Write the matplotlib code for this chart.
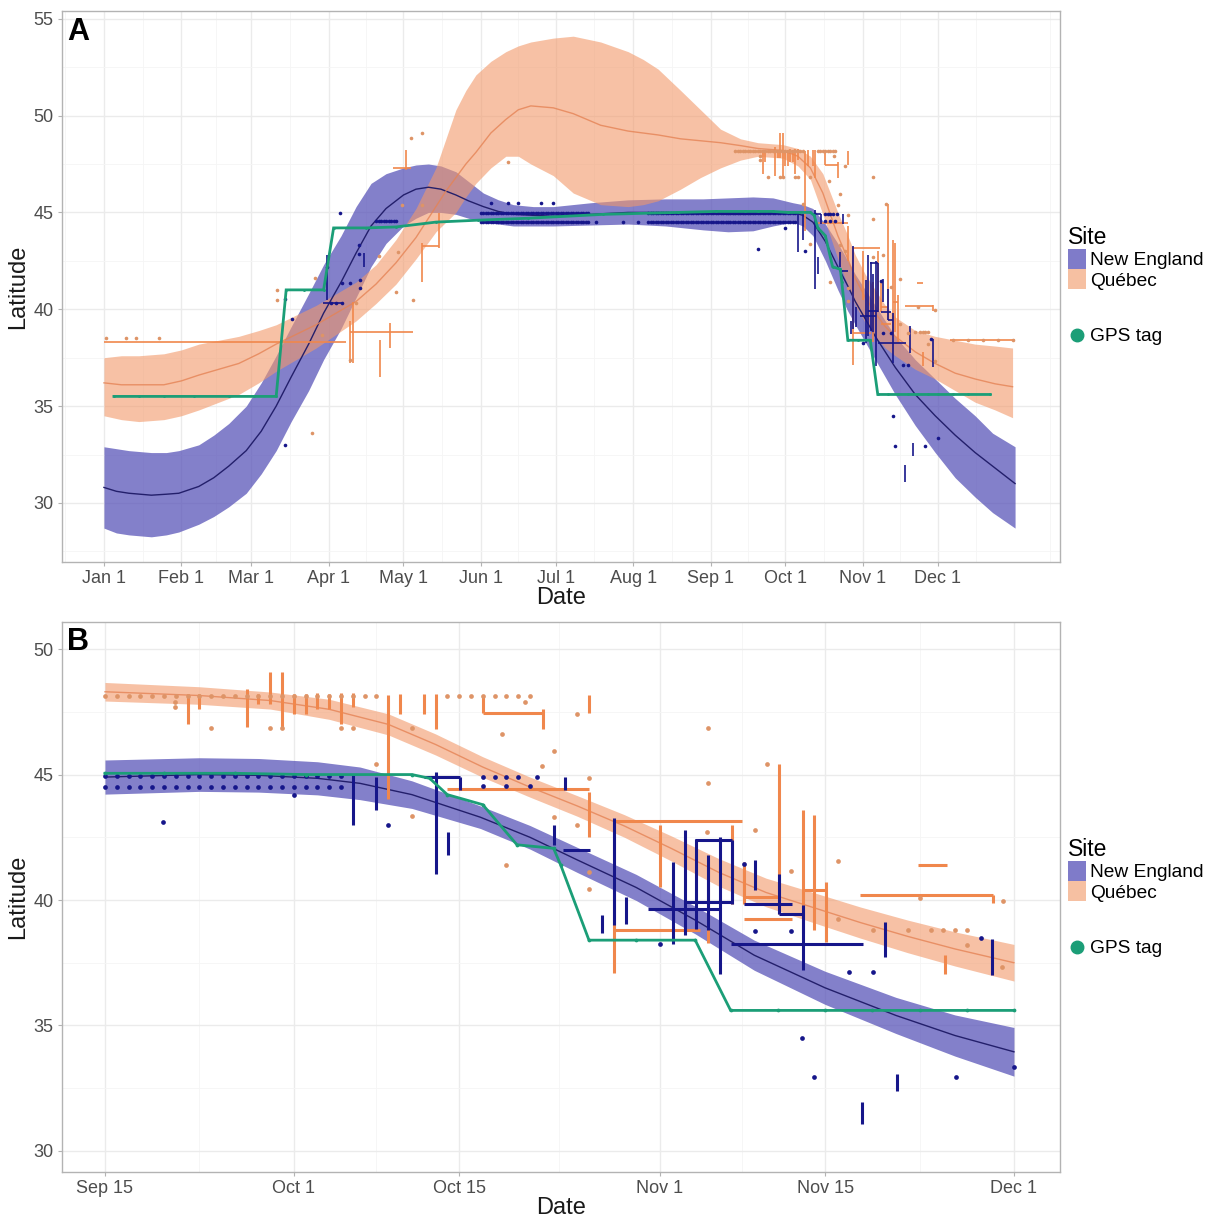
import numpy as np
import matplotlib
matplotlib.use("Agg")
import matplotlib.pyplot as plt
import matplotlib.dates as mdates
from matplotlib.patches import Patch
from matplotlib.lines import Line2D
import datetime as dt

plt.rcParams['font.family'] = ['Liberation Sans', 'DejaVu Sans']

# ---------------- data (day of year, 0 = Jan 1) ----------------
SEP15 = 257
DEC1 = 334

# Panel A model fits
A_NE_DAY = [0, 5, 10, 19, 25, 30, 38, 44, 50, 57, 63, 69, 75, 82, 88, 95, 101, 107, 113, 120, 125, 130, 135, 141,
            146, 152, 158, 164, 172, 180, 195, 210, 225, 240, 250, 260, 268, 276, 280, 284, 289, 294, 298, 301, 305,
            309, 313, 317, 321, 325, 333, 341, 349, 356, 365]
A_NE_MEAN = [30.8, 30.6, 30.5, 30.4, 30.45, 30.5, 30.85, 31.3, 31.9, 32.7, 33.7, 35.0, 36.5, 38.2, 39.8, 41.4, 42.9,
             44.3, 45.2, 45.9, 46.2, 46.3, 46.2, 45.9, 45.6, 45.3, 45.05, 44.9, 44.85, 44.8, 44.9, 45.0, 45.0, 44.95,
             44.9, 44.9, 44.95, 45.0, 44.85, 44.5, 43.5, 42.2, 41.2, 40.4, 39.5, 38.6, 37.8, 37.0, 36.3, 35.6, 34.5,
             33.5, 32.6, 31.9, 31.0]
A_NE_LO = [28.7, 28.45, 28.35, 28.25, 28.35, 28.5, 28.9, 29.3, 29.8, 30.5, 31.5, 32.7, 34.2, 35.8, 37.4, 39.0, 40.6,
           42.2, 43.4, 44.3, 44.7, 45.0, 45.0, 44.9, 44.7, 44.5, 44.4, 44.3, 44.3, 44.3, 44.35, 44.4, 44.3, 44.1,
           44.0, 44.05, 44.3, 44.5, 44.3, 43.8, 42.5, 41.0, 39.9, 39.2, 38.3, 37.4, 36.5, 35.6, 34.8, 34.0, 32.6,
           31.3, 30.3, 29.5, 28.7]
A_NE_HI = [32.9, 32.8, 32.7, 32.6, 32.6, 32.7, 33.0, 33.5, 34.1, 35.0, 36.2, 37.6, 39.1, 40.8, 42.3, 43.8, 45.3,
           46.5, 47.0, 47.3, 47.45, 47.5, 47.4, 47.1, 46.6, 46.0, 45.65, 45.4, 45.3, 45.3, 45.5, 45.65, 45.7, 45.7,
           45.75, 45.8, 45.75, 45.5, 45.4, 45.2, 44.4, 43.4, 42.5, 41.8, 41.0, 40.2, 39.4, 38.6, 38.0, 37.4, 36.4,
           35.4, 34.5, 33.6, 32.9]

A_QC_DAY = [0, 7, 14, 24, 31, 38, 46, 54, 62, 69, 77, 85, 93, 101, 109, 117, 125, 133, 137, 141, 145, 149, 155, 161,
            166, 171, 180, 188, 199, 210, 216, 222, 231, 239, 247, 255, 262, 272, 278, 283, 288, 294, 298, 301, 305,
            309, 313, 317, 325, 333, 341, 349, 357, 364]
A_QC_MEAN = [36.2, 36.1, 36.1, 36.1, 36.3, 36.6, 36.9, 37.2, 37.7, 38.2, 38.7, 39.2, 39.8, 40.4, 41.3, 42.4, 43.7,
             45.3, 46.1, 46.8, 47.5, 48.1, 49.1, 49.8, 50.3, 50.5, 50.4, 50.1, 49.5, 49.2, 49.1, 49.0, 48.8, 48.7,
             48.6, 48.45, 48.3, 48.2, 47.9, 47.3, 46.0, 43.8, 42.6, 41.6, 40.6, 39.8, 39.1, 38.6, 37.8, 37.2, 36.7,
             36.4, 36.15, 36.0]
A_QC_LO = [34.5, 34.3, 34.2, 34.3, 34.5, 34.8, 35.2, 35.6, 36.2, 36.8, 37.4, 38.0, 38.7, 39.4, 40.3, 41.3, 42.6,
           44.0, 44.5, 45.0, 45.8, 46.5, 47.3, 47.9, 47.9, 47.5, 46.9, 46.0, 45.4, 45.3, 45.4, 45.6, 46.2, 46.8,
           47.3, 47.7, 47.9, 47.8, 47.4, 46.7, 44.9, 42.6, 41.2, 40.2, 39.3, 38.6, 38.0, 37.6, 36.9, 36.4, 35.8,
           35.2, 34.8, 34.4]
A_QC_HI = [37.5, 37.6, 37.6, 37.7, 37.9, 38.2, 38.4, 38.6, 38.9, 39.2, 39.7, 40.2, 40.8, 41.4, 42.3, 43.6, 45.2,
           47.3, 48.8, 50.3, 51.3, 52.1, 52.8, 53.3, 53.6, 53.8, 54.0, 54.1, 53.8, 53.3, 52.9, 52.4, 51.3, 50.3,
           49.3, 48.8, 48.6, 48.5, 48.3, 47.9, 47.0, 45.0, 43.8, 42.8, 41.8, 41.0, 40.2, 39.6, 38.9, 38.6, 38.4,
           38.2, 38.1, 38.0]

# Panel B model fits (days after Sep 15)
B_NE_D = [0, 8, 13, 18, 21.6, 26, 31.8, 36, 40, 45, 50, 55, 61, 67, 72, 77]
B_NE_MEAN = [44.9, 45.0, 44.97, 44.85, 44.65, 44.2, 43.3, 42.5, 41.6, 40.5, 39.2, 37.8, 36.5, 35.4, 34.6, 33.95]
B_NE_LO = [44.22, 44.33, 44.30, 44.19, 44.0, 43.65, 42.85, 42.03, 41.1, 39.98, 38.65, 37.2, 35.84, 34.68, 33.78, 32.98]
B_NE_HI = [45.58, 45.67, 45.64, 45.51, 45.3, 44.75, 43.75, 42.97, 42.1, 41.02, 39.75, 38.4, 37.16, 36.12, 35.42, 34.92]

B_QC_D = [0, 8, 14, 19, 24, 28, 32, 36, 40, 44, 48, 52, 56, 60, 64, 68, 72, 77]
B_QC_MEAN = [48.3, 48.15, 47.95, 47.6, 47.0, 46.2, 45.3, 44.5, 43.75, 42.95, 42.05, 41.1, 40.3, 39.7, 39.1, 38.55,
             38.05, 37.5]
B_QC_LO = [47.93, 47.8, 47.61, 47.2, 46.58, 45.78, 44.89, 44.1, 43.34, 42.5, 41.55, 40.55, 39.73, 39.1, 38.48, 37.9,
           37.37, 36.77]
B_QC_HI = [48.67, 48.5, 48.29, 48.0, 47.42, 46.62, 45.71, 44.9, 44.16, 43.4, 42.55, 41.65, 40.87, 40.3, 39.72, 39.2,
           38.73, 38.23]

# GPS tag fixes (day of year, latitude)
GPS_DAY = [4, 14, 24, 36, 50, 60, 69, 73, 80, 88, 92, 105, 117, 133, 150, 170, 200, 230, 245, 257, 262, 268, 274,
           283, 284.5, 286, 289, 291.9, 295, 295.6, 298, 302, 307, 310, 314, 318, 322, 326, 330, 334, 340, 346, 355]
GPS_LAT = [35.5, 35.5, 35.5, 35.5, 35.5, 35.5, 35.5, 41.0, 41.0, 41.0, 44.2, 44.2, 44.25, 44.5, 44.6, 44.7, 44.9,
           45.0, 45.05, 45.05, 45.05, 45.05, 45.0, 45.0, 44.85, 44.2, 43.8, 42.2, 42.06, 41.4, 38.4, 38.4, 38.4, 35.6,
           35.6, 35.6, 35.6, 35.6, 35.6, 35.6, 35.6, 35.6, 35.6]

# New England observations
NE_PT_DAY = [261.9, 273, 281, 289, 290, 291, 292, 293.6, 289, 291, 293, 304, 311.1, 312.1, 315.1, 320, 322.1, 331.2,
             316.05, 317.1, 329.1, 334, 72.6, 75.3, 72.4, 94.4, 95.3, 98.6, 102, 102, 102.6, 102.6, 89.5, 91, 93,
             95.3, 155, 162, 166, 175, 180, 197, 208, 214]
NE_PT_LAT = [43.09, 44.2, 43.0, 44.9, 44.9, 44.9, 44.9, 44.9, 44.56, 44.56, 44.56, 38.26, 41.45, 38.76, 38.76, 37.13,
             37.13, 38.48, 34.5, 32.94, 32.94, 33.34, 40.52, 39.49, 33.0, 44.96, 41.35, 41.35, 42.85, 43.3, 41.5,
             41.1, 42.2, 40.3, 40.3, 40.3, 45.48, 45.48, 45.48, 45.48, 45.48, 44.53, 44.53, 44.53]
# daily rows: (latitude, first day, last day)
NE_ROW_LAT = [44.95, 44.52, 44.95, 44.52, 44.55]
NE_ROW_START = [151, 151, 218, 218, 109]
NE_ROW_END = [194, 194, 277, 277, 117]
NE_VB_DAY = [278, 280, 285, 286.1, 287.1, 295, 296, 299.1, 300.1, 301.1, 305.1, 306.1, 307.1, 308.1, 309.1, 310.1,
             312.1, 314.1, 316.1, 321.1, 323.1, 324.1, 332.1, 89.5, 104]
NE_VB_LO = [42.98, 43.6, 41.05, 41.8, 44.4, 42.18, 44.4, 38.7, 38.99, 39.06, 38.26, 38.6, 38.86, 38.8, 37.06, 39.86,
            40.39, 39.46, 37.2, 31.08, 37.73, 32.4, 37.0, 40.5, 42.2]
NE_VB_HI = [44.97, 44.9, 45.1, 42.7, 44.91, 42.98, 44.9, 39.4, 43.26, 40.12, 41.5, 42.78, 42.45, 41.8, 42.51, 42.38,
            41.58, 41.05, 39.79, 31.94, 39.12, 33.08, 38.46, 42.8, 42.9]
NE_HB_LAT = [44.91, 41.98, 42.38, 39.66, 39.92, 39.86, 39.46, 38.26, 40.31]
NE_HB_START = [284, 295.8, 307, 303, 306.1, 311.1, 314.1, 310, 87.9]
NE_HB_END = [287.1, 298.1, 310.1, 309.2, 310.1, 315.2, 316.2, 321.2, 95.3]

# Quebec observations
QC_PT_DAY = [262.9, 262.9, 266, 271, 272, 277, 278, 280, 283, 283, 290.6, 292.6, 295, 294, 297, 298, 291, 295, 298,
             298, 297, 308.1, 308.1, 313.1, 312.1, 315.1, 319.1, 319.1, 322.1, 325, 327, 328, 329, 330, 333.1, 330,
             333, 308, 326, 1, 9, 13, 22, 69.2, 69.2, 84.6, 87.3, 101, 118, 117, 124, 127.4, 119.4, 127.4, 110, 98.6,
             83.2, 162, 123, 340, 346, 352, 358, 364]
QC_PT_LAT = [47.9, 47.7, 46.84, 46.84, 46.84, 46.84, 46.84, 45.44, 46.84, 43.35, 46.6, 47.9, 45.93, 45.36, 47.4,
             44.87, 41.4, 43.3, 41.1, 40.45, 43.0, 46.84, 44.67, 45.41, 42.78, 41.16, 41.56, 39.23, 38.79, 38.82,
             38.82, 38.82, 38.82, 38.82, 39.95, 38.2, 37.33, 42.7, 40.1, 38.5, 38.5, 38.5, 38.5, 41.0, 40.5, 41.6,
             38.68, 40.3, 42.98, 40.9, 40.49, 49.1, 45.39, 45.39, 42.76, 37.4, 33.6, 47.6, 48.85, 38.4, 38.4, 38.4,
             38.4, 38.4]
QC_ROW_LAT = [48.15, 48.15]
QC_ROW_START = [253, 286]
QC_ROW_END = [280, 293]
QC_VB_DAY = [264, 265, 269, 270, 271, 272, 273, 274, 275, 276, 277, 278, 281, 282, 284, 285, 289, 294.1, 298, 298,
             300.1, 304, 308.1, 310.1, 311.1, 314.1, 316.1, 317.1, 318.1, 328.2, 332.2, 98.6, 99.9, 110.4, 114.7,
             127.4, 134.4, 121.1]
QC_VB_LO = [47.0, 47.6, 46.9, 47.8, 47.8, 46.8, 47.4, 47.4, 47.6, 47.6, 47.0, 47.7, 44.04, 47.4, 47.4, 46.8, 47.47,
            46.8, 47.45, 42.5, 37.1, 40.5, 38.3, 39.86, 39.86, 39.46, 38.67, 38.8, 38.32, 37.06, 39.9, 37.22, 37.22,
            36.52, 38.0, 41.43, 43.16, 47.2]
QC_VB_HI = [48.23, 48.23, 48.4, 48.2, 49.1, 49.1, 48.2, 48.2, 48.25, 48.2, 48.25, 48.25, 48.17, 48.2, 48.2, 48.2,
            48.14, 47.6, 48.17, 44.3, 43.2, 43.0, 41.4, 43.0, 41.52, 45.44, 43.58, 43.4, 40.72, 37.8, 40.2, 39.37,
            40.4, 38.42, 39.3, 43.42, 44.96, 48.23]
QC_HB_LAT = [47.47, 44.44, 43.15, 40.19, 41.38, 40.39, 39.26, 40.12, 38.79, 38.3, 38.8, 43.29, 47.29, 38.4]
QC_HB_START = [289, 286, 300, 321, 325.9, 316.2, 311.1, 311.1, 300.2, 0, 98.6, 127.4, 115.6, 339]
QC_HB_END = [294.1, 298, 311, 332.2, 328.3, 318.2, 315.2, 314.2, 307.4, 97, 124, 134.4, 123, 365]

# Tick labels
A_TICK_MONTHS = [1, 2, 3, 4, 5, 6, 7, 8, 9, 10, 11, 12]
A_TICK_LABELS = ["Jan 1", "Feb 1", "Mar 1", "Apr 1", "May 1", "Jun 1", "Jul 1", "Aug 1", "Sep 1", "Oct 1", "Nov 1",
                 "Dec 1"]
B_TICK_DATES = [(9, 15), (10, 1), (10, 15), (11, 1), (11, 15), (12, 1)]
B_TICK_LABELS = ["Sep 15", "Oct 1", "Oct 15", "Nov 1", "Nov 15", "Dec 1"]
A_YTICKS = [30, 35, 40, 45, 50, 55]
B_YTICKS = [30, 35, 40, 45, 50]

# ---------------- style ----------------
NE_FILL = "#5a55b9"
QC_FILL = "#f2996a"
NE_LINE = "#231f6b"
QC_LINE = "#e58355"
NE_MARK = "#16168a"
QC_MARK = "#f0874c"
QC_DOT = "#de9467"
GPS_COL = "#1b9e77"
NE_KEY = "#7f7bc9"
QC_KEY = "#f6c0a2"

YEAR = 2019
BASE = mdates.date2num(dt.datetime(YEAR, 1, 1))


def dnum(days):
    return BASE + np.asarray(days, dtype=float)


def expand_rows(lats, starts, ends):
    dd, ll = [], []
    for la, s, e in zip(lats, starts, ends):
        for d in range(int(s), int(e) + 1):
            dd.append(d)
            ll.append(la)
    return np.array(dd, float), np.array(ll, float)


def draw(ax, fit_ne, fit_qc, lim, bar_lw, ms, gps_clip):
    d0, d1 = lim
    ax.fill_between(dnum(fit_ne[0]), fit_ne[2], fit_ne[3], color=NE_FILL, alpha=0.75, lw=0, zorder=2)
    ax.plot(dnum(fit_ne[0]), fit_ne[1], color=NE_LINE, lw=1.0, zorder=3)
    ax.fill_between(dnum(fit_qc[0]), fit_qc[2], fit_qc[3], color=QC_FILL, alpha=0.6, lw=0, zorder=2.1)
    ax.plot(dnum(fit_qc[0]), fit_qc[1], color=QC_LINE, lw=1.0, alpha=0.8, zorder=3.1)

    def sel(days):
        days = np.asarray(days, float)
        return (days >= d0) & (days <= d1)

    for (pt_d, pt_l, rows, vb, hb, mcol, dcol) in [
        (QC_PT_DAY, QC_PT_LAT, (QC_ROW_LAT, QC_ROW_START, QC_ROW_END),
         (QC_VB_DAY, QC_VB_LO, QC_VB_HI), (QC_HB_LAT, QC_HB_START, QC_HB_END), QC_MARK, QC_DOT),
        (NE_PT_DAY, NE_PT_LAT, (NE_ROW_LAT, NE_ROW_START, NE_ROW_END),
         (NE_VB_DAY, NE_VB_LO, NE_VB_HI), (NE_HB_LAT, NE_HB_START, NE_HB_END), NE_MARK, NE_MARK)]:
        vd, vlo, vhi = [np.asarray(a, float) for a in vb]
        m = sel(vd)
        ax.vlines(dnum(vd[m]), vlo[m], vhi[m], color=mcol, lw=bar_lw, zorder=4)
        hl, hs, he = [np.asarray(a, float) for a in hb]
        mid = (hs + he) / 2
        m = sel(mid)
        ax.hlines(hl[m], dnum(np.clip(hs[m], d0, d1)), dnum(np.clip(he[m], d0, d1)), color=mcol, lw=bar_lw,
                  zorder=4)
        rd, rl = expand_rows(*rows)
        pd_ = np.concatenate([np.asarray(pt_d, float), rd])
        pl_ = np.concatenate([np.asarray(pt_l, float), rl])
        m = sel(pd_)
        ax.plot(dnum(pd_[m]), pl_[m], 'o', color=dcol, ms=ms, mew=0, zorder=4.5)

    gd = np.asarray(GPS_DAY, float)
    gl = np.asarray(GPS_LAT, float)
    if gps_clip:
        m = sel(gd)
        gd, gl = gd[m], gl[m]
    ax.plot(dnum(gd), gl, color=GPS_COL, lw=2.0, zorder=5, solid_joinstyle='miter')
    ax.plot(dnum(gd), gl, 'o', color=GPS_COL, ms=ms * 0.8, mew=0, zorder=5.1)


def style(ax, xticks, xlabels, xminor, yticks, yminor, letter):
    ax.set_xticks(xticks)
    ax.set_xticklabels(xlabels)
    ax.set_xticks(xminor, minor=True)
    ax.set_yticks(yticks)
    ax.set_yticks(yminor, minor=True)
    ax.grid(which='major', color='#ebebeb', lw=1.0, zorder=0)
    ax.grid(which='minor', color='#f5f5f5', lw=0.6, zorder=0)
    ax.set_axisbelow(True)
    ax.tick_params(which='major', length=3, color='#b3b3b3', labelsize=13, labelcolor='#4d4d4d', pad=3)
    ax.tick_params(which='minor', length=0)
    for s in ax.spines.values():
        s.set_color('#b3b3b3')
        s.set_linewidth(1.0)
    ax.set_xlabel('Date', fontsize=17, labelpad=0, color='#1a1a1a')
    ax.set_ylabel('Latitude', fontsize=17, labelpad=3, color='#1a1a1a')
    ax.text(0.005, 0.99, letter, transform=ax.transAxes, fontsize=22, fontweight='bold', va='top', ha='left')


def legends(fig, y_site, y_gps):
    h1 = [Patch(facecolor=NE_KEY, edgecolor='none', label='New England'),
          Patch(facecolor=QC_KEY, edgecolor='none', label='Québec')]
    fig.legend(handles=h1, title='Site', loc='upper left', bbox_to_anchor=(1068 / 1217, 1 - y_site / 1223),
               frameon=False, fontsize=13.8, title_fontsize=16.5, alignment='left', handlelength=0.95,
               handleheight=1.2, handletextpad=0.2, labelspacing=0.0, borderpad=0, borderaxespad=0)
    h2 = [Line2D([], [], marker='o', ls='none', color=GPS_COL, ms=9, label='GPS tag')]
    fig.legend(handles=h2, loc='upper left', bbox_to_anchor=(1068 / 1217, 1 - y_gps / 1223), frameon=False,
               fontsize=13.8, handlelength=0.95, handletextpad=0.2, borderpad=0, borderaxespad=0)


fig = plt.figure(figsize=(12.17, 12.23), dpi=100)
fig.patch.set_facecolor('white')
axA = fig.add_axes([62 / 1217, 1 - 562 / 1223, 998 / 1217, 551 / 1223])
axB = fig.add_axes([62 / 1217, 1 - 1172 / 1223, 998 / 1217, 550 / 1223])

# Panel A
draw(axA, (A_NE_DAY, A_NE_MEAN, A_NE_LO, A_NE_HI), (A_QC_DAY, A_QC_MEAN, A_QC_LO, A_QC_HI), (-20, 400),
     1.2, 2.6, False)
a_ticks = [mdates.date2num(dt.datetime(YEAR, m, 1)) for m in A_TICK_MONTHS]
a_minor = [(a + b) / 2 for a, b in zip(a_ticks[:-1], a_ticks[1:])]
a_minor = [a_ticks[0] - 15.5] + a_minor + [a_ticks[-1] + 15.5, a_ticks[-1] + 45]
style(axA, a_ticks, A_TICK_LABELS, a_minor, A_YTICKS, [27.5, 32.5, 37.5, 42.5, 47.5, 52.5], 'A')
axA.set_xlim(dnum(-16.8), dnum(383))
axA.set_ylim(26.95, 55.4)

# Panel B
fit_ne_b = (np.asarray(B_NE_D) + SEP15, B_NE_MEAN, B_NE_LO, B_NE_HI)
fit_qc_b = (np.asarray(B_QC_D) + SEP15, B_QC_MEAN, B_QC_LO, B_QC_HI)
draw(axB, fit_ne_b, fit_qc_b, (SEP15, DEC1), 2.2, 3.4, True)
b_ticks = [mdates.date2num(dt.datetime(YEAR, m, d)) for m, d in B_TICK_DATES]
b_minor = [(a + b) / 2 for a, b in zip(b_ticks[:-1], b_ticks[1:])]
style(axB, b_ticks, B_TICK_LABELS, b_minor, B_YTICKS, [32.5, 37.5, 42.5, 47.5], 'B')
axB.set_xlim(dnum(SEP15 - 3.64), dnum(SEP15 + 80.9))
axB.set_ylim(29.16, 51.08)

legends(fig, 226, 328)
legends(fig, 838, 940)

fig.savefig('out.png', dpi=100, facecolor='white')
